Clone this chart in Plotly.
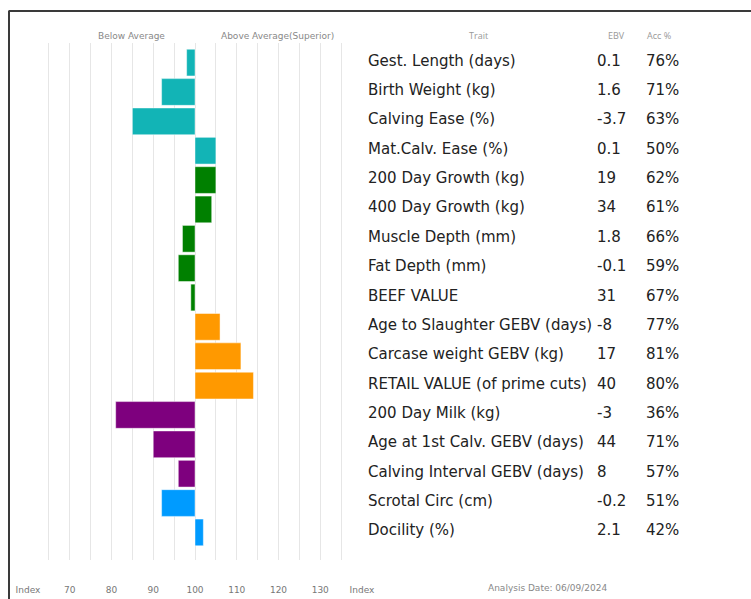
import plotly.graph_objects as go

traits = ["Gest. Length (days)", "Birth Weight (kg)", "Calving Ease (%)", "Mat.Calv. Ease (%)",
          "200 Day Growth (kg)", "400 Day Growth (kg)", "Muscle Depth (mm)", "Fat Depth (mm)",
          "BEEF VALUE", "Age to Slaughter GEBV (days)", "Carcase weight GEBV (kg)",
          "RETAIL VALUE (of prime cuts)", "200 Day Milk (kg)", "Age at 1st Calv. GEBV (days)",
          "Calving Interval GEBV (days)", "Scrotal Circ (cm)", "Docility (%)"]
ebv = ["0.1", "1.6", "-3.7", "0.1", "19", "34", "1.8", "-0.1", "31", "-8", "17", "40",
       "-3", "44", "8", "-0.2", "2.1"]
acc = [76, 71, 63, 50, 62, 61, 66, 59, 67, 77, 81, 80, 36, 71, 57, 51, 42]
index_vals = [98, 92, 85, 105, 105, 104, 97, 96, 99, 106, 111, 114, 81, 90, 96, 92, 102]
groups = ["calving", "calving", "calving", "calving", "growth", "growth", "growth", "growth",
          "growth", "carcase", "carcase", "carcase", "maternal", "maternal", "maternal",
          "fertility", "fertility"]
group_colors = {"calving": "#12B4B6", "growth": "#008000", "carcase": "#FF9900",
                "maternal": "#7E007E", "fertility": "#009BFF"}
tick_vals = list(range(60, 145, 5))
tick_labels = {60: "Index", 70: "70", 80: "80", 90: "90", 100: "100", 110: "110",
               120: "120", 130: "130", 140: "Index"}
AVERAGE = 100

# vertical correction for the capture (page is photographed slightly compressed)
K = 607 / 599
W, H = 751, 607
L, R = 28, 362
T, B = round(42 * K), round(560 * K)
pw, ph = R - L, B - T


def px(x):
    return (x - L) / pw


def py(y):
    return (B - y * K) / ph


rows = list(range(len(traits)))
fig = go.Figure()
fig.add_trace(go.Bar(
    y=rows, x=[v - AVERAGE for v in index_vals], base=AVERAGE, orientation="h",
    marker=dict(color=[group_colors[g] for g in groups],
                line=dict(color="rgba(255,255,255,0.45)", width=1)),
    hoverinfo="skip", showlegend=False))

font_trait = "DejaVu Sans, sans-serif"
ann = []
for i, t in enumerate(traits):
    for xpos, txt in [(366, t), (595, ebv[i]), (644, f"{acc[i]}%")]:
        ann.append(dict(x=px(xpos), y=i, xref="paper", yref="y", text=txt, showarrow=False,
                        xanchor="left", yanchor="middle", yshift=2,
                        font=dict(family=font_trait, size=15, color="#222")))

small = dict(family="DejaVu Sans", size=9, color="#888")
hdr = dict(family="Open Sans", size=9, color="#999")
for txt, cx, f in [("Below Average", 131, small), ("Above Average(Superior)", 277, small),
                   ("Trait", 478, hdr), ("EBV", 616, hdr), ("Acc %", 659, hdr)]:
    ann.append(dict(x=px(cx), y=py(35), xref="paper", yref="paper", text=txt, showarrow=False,
                    xanchor="center", yanchor="middle", font=f))
ann.append(dict(x=px(547), y=py(588), xref="paper", yref="paper",
                text="Analysis Date: 06/09/2024", showarrow=False,
                xanchor="center", yanchor="middle", font=small))

shapes = [
    dict(type="line", xref="paper", yref="paper", x0=px(9), x1=px(752), y0=py(10.5), y1=py(10.5),
         line=dict(color="#3a3a3a", width=2)),
    dict(type="line", xref="paper", yref="paper", x0=px(9), x1=px(9), y0=py(10), y1=py(605),
         line=dict(color="#3a3a3a", width=2)),
]

fig.update_layout(
    width=W, height=H, margin=dict(l=L, r=W - R, t=T, b=H - B),
    paper_bgcolor="white", plot_bgcolor="white", bargap=0.09,
    annotations=ann, shapes=shapes,
    xaxis=dict(range=[60, 140], tickvals=tick_vals,
               ticktext=[tick_labels.get(v, "") for v in tick_vals],
               showgrid=True, gridcolor="#e6e6e6", gridwidth=1, zeroline=False,
               showline=False, ticks="", ticklabelstandoff=23,
               tickfont=dict(family="DejaVu Sans", size=9, color="#777"), fixedrange=True),
    yaxis=dict(range=[16.94, -0.668], showticklabels=False, showgrid=False, zeroline=False,
               showline=False, fixedrange=True),
)
post = ("document.documentElement.style.margin='0';document.body.style.margin='0';"
        "document.documentElement.style.overflow='hidden';document.body.style.overflow='hidden';"
        "var g=document.getElementById('{plot_id}');g.style.position='fixed';"
        "g.style.top='0px';g.style.left='0px';")
fig.write_html("out.html", config={"displayModeBar": False}, post_script=post)
